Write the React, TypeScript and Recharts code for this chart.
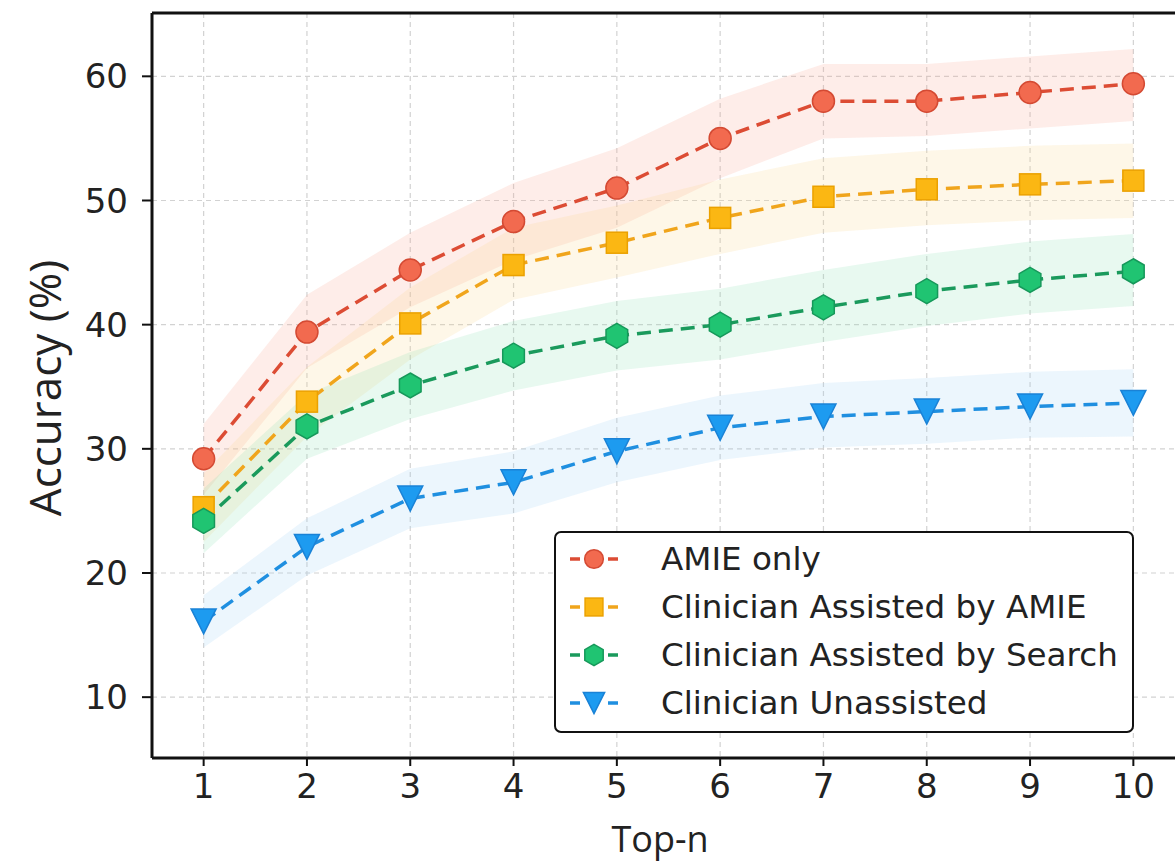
import React from 'react';
import { ComposedChart, Line, Area, XAxis, YAxis, CartesianGrid, ReferenceLine } from 'recharts';

const topN = [1, 2, 3, 4, 5, 6, 7, 8, 9, 10];

const amieOnly = [29.2, 39.4, 44.4, 48.3, 51.0, 55.0, 58.0, 58.0, 58.7, 59.4];
const amieOnlyLo = [26.3, 36.5, 41.4, 45.2, 47.8, 51.8, 55.0, 55.2, 55.8, 56.4];
const amieOnlyHi = [32.0, 42.4, 47.4, 51.4, 54.2, 58.2, 61.0, 61.0, 61.6, 62.2];

const assistedAmie = [25.3, 33.8, 40.1, 44.8, 46.6, 48.6, 50.3, 50.9, 51.3, 51.6];
const assistedAmieLo = [22.5, 31.0, 37.2, 42.0, 43.8, 45.7, 47.4, 48.0, 48.4, 48.6];
const assistedAmieHi = [28.0, 36.6, 43.0, 47.8, 49.6, 51.7, 53.4, 54.0, 54.4, 54.6];

const assistedSearch = [24.2, 31.8, 35.1, 37.5, 39.1, 40.0, 41.4, 42.7, 43.6, 44.3];
const assistedSearchLo = [21.6, 29.2, 32.4, 34.7, 36.3, 37.2, 38.6, 39.9, 40.9, 41.5];
const assistedSearchHi = [26.8, 34.4, 37.8, 40.3, 41.9, 42.9, 44.4, 45.7, 46.7, 47.3];

const unassisted = [16.1, 22.1, 26.0, 27.3, 29.8, 31.7, 32.6, 33.0, 33.4, 33.7];
const unassistedLo = [14.0, 19.8, 23.6, 24.8, 27.3, 29.1, 30.1, 30.4, 30.9, 31.0];
const unassistedHi = [18.2, 24.4, 28.4, 29.8, 32.5, 34.3, 35.3, 35.7, 36.2, 36.4];

const yTicks = [10, 20, 30, 40, 50, 60];

const series = [
  { key: 'amie', name: 'AMIE only', shape: 'circle', line: '#dc4c34', fill: '#f26a4f', edge: '#d44a33', band: '#f8a58f' },
  { key: 'assistAmie', name: 'Clinician Assisted by AMIE', shape: 'square', line: '#f0a51c', fill: '#fbb713', edge: '#eba100', band: '#fcd58a' },
  { key: 'assistSearch', name: 'Clinician Assisted by Search', shape: 'hexagon', line: '#1a9a5c', fill: '#20c472', edge: '#16985a', band: '#8ee0b4' },
  { key: 'unassisted', name: 'Clinician Unassisted', shape: 'triangle', line: '#1f8fe0', fill: '#1d9bf0', edge: '#1a82d6', band: '#9fd0f5' },
];

const data = topN.map((n, i) => ({
  n,
  amie: amieOnly[i],
  amieBand: [amieOnlyLo[i], amieOnlyHi[i]],
  assistAmie: assistedAmie[i],
  assistAmieBand: [assistedAmieLo[i], assistedAmieHi[i]],
  assistSearch: assistedSearch[i],
  assistSearchBand: [assistedSearchLo[i], assistedSearchHi[i]],
  unassisted: unassisted[i],
  unassistedBand: [unassistedLo[i], unassistedHi[i]],
}));

const Marker = ({ shape, cx, cy, fill, stroke, size = 1 }: any) => {
  if (cx == null || cy == null) return null;
  if (shape === 'circle') {
    return <circle cx={cx} cy={cy} r={11 * size} fill={fill} stroke={stroke} strokeWidth={1.5} />;
  }
  if (shape === 'square') {
    const h = 10.5 * size;
    return <rect x={cx - h} y={cy - h} width={2 * h} height={2 * h} fill={fill} stroke={stroke} strokeWidth={1.5} />;
  }
  if (shape === 'hexagon') {
    const r = 12.5 * size;
    const pts = [0, 1, 2, 3, 4, 5]
      .map((k) => {
        const a = (Math.PI / 3) * k - Math.PI / 2;
        return `${cx + r * Math.cos(a)},${cy + r * Math.sin(a)}`;
      })
      .join(' ');
    return <polygon points={pts} fill={fill} stroke={stroke} strokeWidth={1.5} />;
  }
  const s = 12.5 * size;
  return (
    <polygon
      points={`${cx - s},${cy - s} ${cx + s},${cy - s} ${cx},${cy + s}`}
      fill={fill}
      stroke={stroke}
      strokeWidth={1.5}
    />
  );
};

const LegendBox = () => (
  <div
    style={{
      position: 'absolute',
      left: 554,
      top: 531,
      width: 580,
      height: 202,
      border: '2px solid #111',
      borderRadius: 7,
      background: '#fff',
      boxSizing: 'border-box',
      paddingTop: 2,
      fontFamily: 'DejaVu Sans',
    }}
  >
    {series.map((s) => (
      <div key={s.key} style={{ display: 'flex', alignItems: 'center', height: 48 }}>
        <svg width={100} height={40} style={{ flexShrink: 0 }}>
          <line x1={14} y1={20} x2={62} y2={20} stroke={s.line} strokeWidth={3.5} strokeDasharray="10 9" />
          <Marker shape={s.shape} cx={38} cy={20} fill={s.fill} stroke={s.edge} size={0.85} />
        </svg>
        <span style={{ fontSize: 32.6, color: '#222', marginLeft: 5, whiteSpace: 'nowrap' }}>{s.name}</span>
      </div>
    ))}
  </div>
);

const App = () => (
  <div
    style={{
      position: 'absolute',
      left: 0,
      top: 0,
      width: 1175,
      height: 865,
      overflow: 'hidden',
      background: '#fff',
    }}
  >
    <ComposedChart
      width={1200}
      height={865}
      data={data}
      margin={{ top: 13, right: 15, bottom: 77, left: 52 }}
      style={{ fontFamily: 'DejaVu Sans' }}
    >
      <CartesianGrid stroke="#d2d2d2" strokeDasharray="5 4" strokeWidth={1.2} />
      <XAxis
        dataKey="n"
        type="number"
        domain={[0.5, 10.5]}
        ticks={topN}
        interval={0}
        height={30}
        tickSize={8}
        tickMargin={8}
        axisLine={{ stroke: '#111', strokeWidth: 3 }}
        tickLine={{ stroke: '#111', strokeWidth: 2 }}
        tick={{ fontSize: 34, fill: '#222' }}
        label={(props: any) => {
          const vb = props.viewBox;
          return (
            <text x={vb.x + 508} y={838} textAnchor="middle" dominantBaseline="central" fontSize={36} fill="#222" fontFamily="Open Sans">
              Top-n
            </text>
          );
        }}
      />
      <YAxis
        type="number"
        domain={[5.1, 65.1]}
        ticks={yTicks}
        allowDataOverflow
        width={100}
        tickSize={10}
        tickMargin={14}
        axisLine={{ stroke: '#111', strokeWidth: 3 }}
        tickLine={{ stroke: '#111', strokeWidth: 2 }}
        tick={{ fontSize: 34, fill: '#222' }}
        label={() => (
          <text
            x={44}
            y={388}
            textAnchor="middle"
            dominantBaseline="central"
            fontSize={44}
            fill="#222"
            fontFamily="Open Sans"
            transform="rotate(-90, 44, 388)"
          >
            Accuracy (%)
          </text>
        )}
      />
      <ReferenceLine y={65.1} stroke="#111" strokeWidth={3} ifOverflow="visible" />
      {series.map((s) => (
        <Area
          key={s.key + 'Band'}
          dataKey={s.key + 'Band'}
          type="linear"
          stroke="none"
          fill={s.band}
          fillOpacity={0.2}
          isAnimationActive={false}
          activeDot={false}
          legendType="none"
        />
      ))}
      {series.map((s) => (
        <Line
          key={s.key}
          dataKey={s.key}
          name={s.name}
          type="linear"
          stroke={s.line}
          strokeWidth={3.5}
          strokeDasharray="14 8"
          isAnimationActive={false}
          activeDot={false}
          dot={(p: any) => <Marker key={`${s.key}-${p.index}`} shape={s.shape} cx={p.cx} cy={p.cy} fill={s.fill} stroke={s.edge} />}
        />
      ))}
    </ComposedChart>
    <LegendBox />
  </div>
);

export default App;
